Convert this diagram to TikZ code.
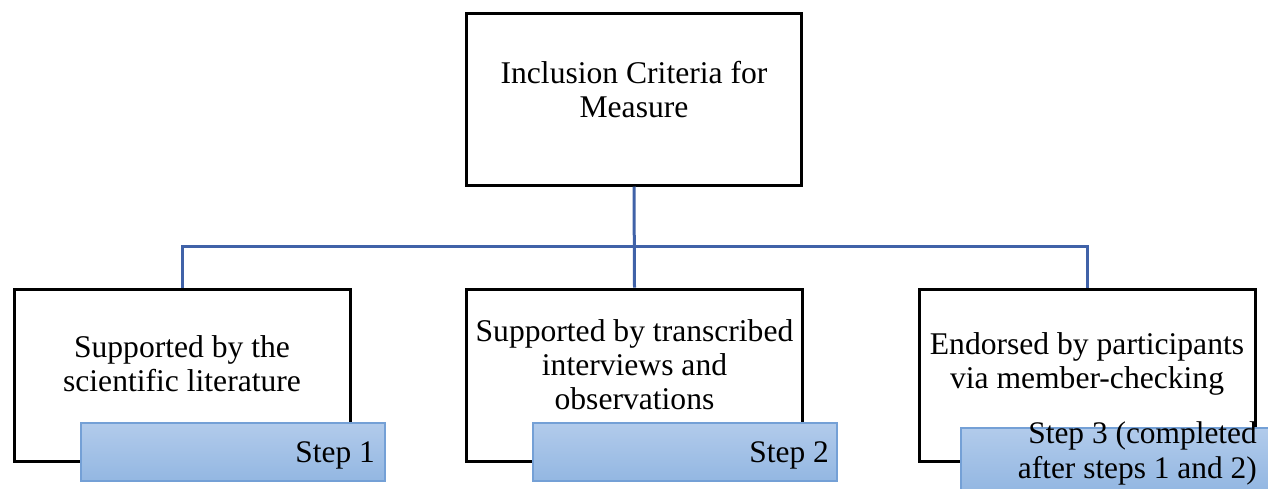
\documentclass[tikz,border=0pt]{standalone}
\usepackage{fontspec}
\setmainfont{Liberation Serif}
\usetikzlibrary{positioning, calc}
\definecolor{steptop}{RGB}{178,203,235}
\definecolor{stepbottom}{RGB}{147,183,226}
\definecolor{stepedge}{RGB}{116,160,214}
\definecolor{linkblue}{RGB}{64,98,168}

\begin{document}
\begin{tikzpicture}[x=1pt, y=1pt,
    box/.style={draw, line width=3pt, minimum width=336pt, minimum height=172pt, inner sep=0pt},
    boxtext/.style={align=center, inner sep=0pt, font=\fontsize{31.6}{34}\selectfont},
    stepbox/.style={draw=stepedge, line width=1.2pt, top color=steptop, bottom color=stepbottom, inner sep=0pt},
    steptext/.style={align=right, inner sep=0pt, font=\fontsize{31.4}{35}\selectfont},
    link/.style={draw=linkblue, line width=3pt}]
    \useasboundingbox (0,0) rectangle (1268,-488);
    % criteria on top
    \node[box, minimum width=335pt] (crit) at (634,-99) {};
    \node[boxtext] (crit-txt) at ($(crit.center)+(0,9)$) {Inclusion Criteria for\\Measure};
    % the three sources
    \node[box] (lit) at (182,-375) {};
    \node[box] (trans) at (634.5,-375) {};
    \node[box] (endo) at (1087,-375) {};
    \node[boxtext] (lit-txt) at ($(lit.center)+(0,11)$) {Supported by the\\scientific literature};
    \node[boxtext] (trans-txt) at ($(trans.center)+(0,10)$) {Supported by transcribed\\interviews and\\observations};
    \node[boxtext] (endo-txt) at ($(endo.center)+(0,11)$) {Endorsed by participants\\via member-checking};
    % connectors
    \coordinate (branch) at (634,-246);
    \draw[link] (crit.south) -- (trans.north);
    \draw[link] (lit.north) |- (branch) -| (endo.north);
    % step tags
    \node[stepbox, minimum width=304pt, minimum height=58pt] (step1) at (233,-452) {};
    \node[stepbox, minimum width=304pt, minimum height=58pt] (step2) at (685,-452) {};
    \node[stepbox, minimum width=314pt, minimum height=62pt] (step3) at (1118,-459) {};
    \node[steptext, anchor=base east] (step1-txt) at (375,-462) {Step 1};
    \node[steptext, anchor=base east] (step2-txt) at (829,-462) {Step 2};
    \node[steptext, anchor=north east] (step3-txt) at (1257,-421.5) {Step 3 (completed\\after steps 1 and 2)};
\end{tikzpicture}
\end{document}
